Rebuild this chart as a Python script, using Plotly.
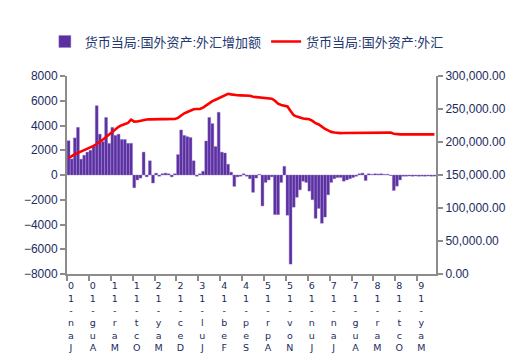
import plotly.graph_objects as go

# monthly categories Jan-2010 .. Oct-2019 (118 months)
years = list(range(2010, 2020))
mon_names = ["Jan", "Feb", "Mar", "Apr", "May", "Jun", "Jul", "Aug", "Sep", "Oct", "Nov", "Dec"]
months = [f"{m}-{str(y)[2:]}" for y in years for m in mon_names][:118]

# 货币当局:国外资产:外汇增加额 (left axis)
fx_change = [
    2770, 1300, 3000, 3850, 1280, 1600, 1850, 2000, 2300, 5600,
    3300, 2700, 4650, 2550, 3850, 3200, 3300, 2870, 2870, 2560,
    2560, -1030, -400, -250, 1850, -150, 1150, -650, 150, -100,
    100, 150, 100, -150, 100, 1650, 3640, 3200, 3100, 3030,
    1150, -100, 100, 300, 2750, 4650, 4150, 2300, 5070, 1850,
    1780, 870, 230, -920, -150, -100, 100, -100, -300, -1400,
    -250, 50, -2500, -600, -400, -150, -3200, -3200, -600, 700,
    -3250, -7200, -2600, -1800, -1200, -500, -600, -1300, -2000, -3500,
    -2700, -3900, -3400, -1600, -600, -300, -200, -200, -500, -400,
    -300, -200, -100, 100, 150, -450, 100, 50, 100, 80,
    100, 50, 60, -50, -1250, -900, -400, -100, -100, -80,
    -100, -80, -100, -90, -100, -80, -100, -90,
]

# 货币当局:国外资产:外汇 (right axis)
fx_level = [
    175500, 179000, 181500, 183500, 185500, 187500, 189500, 191300, 194000, 197000,
    200000, 203700, 207500, 211500, 215000, 219000, 223000, 225500, 227500, 229000,
    233800, 230800, 231000, 232000, 233600, 234000, 234300, 234600, 234600, 234600,
    234600, 234600, 234600, 234600, 234800, 236500, 240000, 243500, 245500, 248000,
    249500, 250000, 250000, 252000, 255500, 259500, 262000, 264000, 266500, 268500,
    271000, 273000, 272200, 271000, 270800, 270700, 270700, 270500, 270000, 268500,
    268000, 267500, 267000, 266500, 266000, 265500, 262500, 258000, 256200, 255000,
    253800, 247000, 240500, 238500, 236500, 235500, 235000, 234500, 232000, 228500,
    226500, 223000, 220000, 217500, 215300, 214500, 213800, 213500, 213600, 213700,
    213800, 213900, 214000, 214100, 214200, 214000, 214100, 214200, 214200, 214300,
    214300, 214300, 214300, 214200, 212500, 211700, 211500, 211500, 211500, 211500,
    211500, 211500, 211500, 211500, 211500, 211500, 211500, 211500,
]

tick_labels = ["Jan-10", "Aug-10", "Mar-11", "Oct-11", "May-12", "Dec-12", "Jul-13",
               "Feb-14", "Sep-14", "Apr-15", "Nov-15", "Jun-16", "Jan-17", "Aug-17",
               "Mar-18", "Oct-18", "May-19"]

name_bar = "货币当局:国外资产:外汇增加额"
name_line = "货币当局:国外资产:外汇"

idx = list(range(len(months)))
tick_pos = [months.index(t) - 0.5 for t in tick_labels]
tick_txt = ["<br>".join(reversed(list(t))) for t in tick_labels]

navy = "#1C2B5E"
axis_gray = "#8C8C8C"
font_fam = "Liberation Sans, Arial, Noto Sans CJK SC"

fig = go.Figure()
fig.add_trace(go.Bar(
    x=idx, y=fx_change, name=name_bar,
    marker=dict(color="#5E2FA3", line=dict(color="#8A78C2", width=0.4)),
    hovertext=months,
))
fig.add_trace(go.Scatter(
    x=idx, y=fx_level, name=name_line, yaxis="y2", mode="lines",
    line=dict(color="#FF0000", width=2.6), hovertext=months,
))

fig.update_layout(
    width=525, height=357,
    margin=dict(l=59, r=97, t=68, b=79),
    paper_bgcolor="white", plot_bgcolor="white",
    font=dict(family=font_fam, color=navy, size=12),
    bargap=0.08,
    showlegend=True,
    legend=dict(orientation="h", x=-0.06, xanchor="left", y=1.25, yanchor="top",
                font=dict(size=13, color="#23386E"), itemwidth=30,
                traceorder="normal", bgcolor="rgba(0,0,0,0)"),
    xaxis=dict(
        range=[-0.5, len(months) - 0.5],
        tickmode="array", tickvals=tick_pos, ticktext=tick_txt,
        ticks="outside", ticklen=5, tickcolor=axis_gray, tickwidth=1.5,
        ticklabelshift=4, ticklabelstandoff=-3,
        showline=True, linecolor=axis_gray, linewidth=2,
        showgrid=False, zeroline=False, tickangle=0,
        tickfont=dict(size=9.5, color=navy, family="DejaVu Sans"),
    ),
    yaxis=dict(
        range=[-8000, 8000], dtick=2000, tickformat="d",
        ticks="outside", ticklen=5, tickcolor=axis_gray, tickwidth=1.5,
        showline=True, linecolor=axis_gray, linewidth=2,
        showgrid=False, zeroline=False,
        tickfont=dict(size=12, color=navy),
    ),
    yaxis2=dict(
        range=[0, 300000], dtick=50000, tickformat=",.2f",
        overlaying="y", side="right",
        ticks="outside", ticklen=5, tickcolor=axis_gray, tickwidth=1.5,
        showline=True, linecolor=axis_gray, linewidth=2,
        showgrid=False, zeroline=False,
        tickfont=dict(size=12, color=navy),
    ),
)

fig.write_html("out.html")
